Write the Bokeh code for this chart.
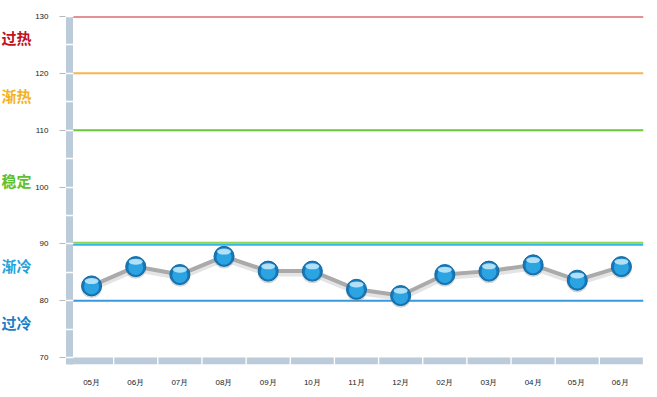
from bokeh.plotting import figure
from bokeh.layouts import row
from bokeh.models import Range1d, FactorRange, Span, SingleIntervalTicker, ColumnDataSource
from bokeh.core.properties import value
from bokeh.transform import dodge
from bokeh.embed import file_html
from bokeh.resources import INLINE

months = ["05月", "06月", "07月", "08月", "09月", "10月", "11月", "12月",
          "02月", "03月", "04月", "05月 ", "06月 "]
month_labels = ["05月", "06月", "07月", "08月", "09月", "10月", "11月", "12月",
                "02月", "03月", "04月", "05月", "06月"]
values = [82.6, 86.0, 84.6, 87.8, 85.2, 85.2, 82.0, 80.9, 84.6, 85.2, 86.3, 83.6, 86.0]

zone_names = ["过热", "渐热", "稳定", "渐冷", "过冷"]
zone_label_y = [126.3, 116.1, 101.1, 86.2, 76.2]
zone_colors = ["#bf121b", "#f5b21c", "#5cc22e", "#1ea3dc", "#1a7fc8"]

line_values = [130, 120, 110, 90.18, 89.82, 80]
line_colors = ["#c9232b", "#f7b54c", "#68c83a", "#8fd45a", "#38b4e6", "#3899dc"]

y_min, y_max = 70, 130
y_range = Range1d(y_min - 1.23, y_max)

# narrow panel holding the zone labels
left = figure(width=32, height=397, output_backend="svg", toolbar_location=None,
              x_range=Range1d(0, 1), y_range=y_range,
              min_border_left=0, min_border_right=0, min_border_top=16, min_border_bottom=33)
left.axis.visible = False
left.grid.visible = False
left.outline_line_color = None
zsrc = ColumnDataSource(dict(y=zone_label_y, t=zone_names, c=zone_colors))
left.text(x=0, y="y", text="t", text_color="c", source=zsrc, x_offset=1,
          text_font=value("Noto Sans CJK SC"), text_font_style="bold",
          text_font_size="15px", text_baseline="middle", text_align="left")

p = figure(width=625, height=397, output_backend="svg", toolbar_location=None,
           x_range=FactorRange(factors=months), y_range=y_range,
           min_border_left=34, min_border_right=14, min_border_top=16, min_border_bottom=33)
p.outline_line_color = None
p.xgrid.grid_line_color = None
p.ygrid.grid_line_color = None
p.background_fill_color = "white"

bar_color = "#bccbd9"

# y axis drawn as a thick bar
yax = p.yaxis[0]
yax.ticker = SingleIntervalTicker(interval=10, num_minor_ticks=2)
yax.axis_line_color = bar_color
yax.axis_line_width = 7
yax.major_tick_line_color = "#b8b8b8"
yax.major_tick_in = 0
yax.major_tick_out = 10
yax.minor_tick_line_color = "white"
yax.minor_tick_line_width = 1.5
yax.minor_tick_in = 4
yax.minor_tick_out = 4
yax.major_label_standoff = 11
yax.major_label_text_font = "Liberation Sans"
yax.major_label_text_font_size = "8px"
yax.major_label_text_color = "#222222"

xax = p.xaxis[0]
xax.axis_line_color = None
xax.major_tick_line_color = None
xax.minor_tick_line_color = None
xax.major_label_standoff = 7
xax.major_label_text_font = "Liberation Sans"
xax.major_label_text_font_size = "8px"
xax.major_label_text_color = "#222222"
xax.major_label_overrides = {m: l for m, l in zip(months, month_labels)}

# reference lines
for v, c in zip(line_values, line_colors):
    p.add_layout(Span(location=v, dimension="width", line_color=c, line_width=2, level="underlay"))

src = ColumnDataSource(dict(x=months, y=values))

# bottom bar segments
p.vbar(x="x", top=y_min, bottom=y_min - 1.23, width=0.97, source=src,
       fill_color=bar_color, line_color=None)

# line with soft shadow
p.line(x="x", y=dodge("y", -0.35, range=p.y_range),
       source=src, line_color="#d8d8d8", line_width=7, line_alpha=0.7)
p.line(x="x", y="y", source=src, line_color="#aaaaaa", line_width=4)

# glossy spheres
p.scatter(x="x", y=dodge("y", -0.3, range=p.y_range), source=src, size=21,
          fill_color="#888888", fill_alpha=0.35, line_color=None)
p.scatter(x="x", y="y", source=src, size=20, fill_color="#1479bb",
          line_color="#0f6aa6", line_width=1)
p.scatter(x="x", y=dodge("y", -0.15, range=p.y_range), source=src, size=15,
          fill_color="#2da4e2", line_color=None)
p.ellipse(x="x", y=dodge("y", 0.85, range=p.y_range), source=src, width=14, height=6,
          width_units="screen", height_units="screen",
          fill_color="#c9ecfb", fill_alpha=0.85, line_color=None)

layout = row(left, p, spacing=0)
open("out.html", "w").write(file_html(layout, INLINE))
